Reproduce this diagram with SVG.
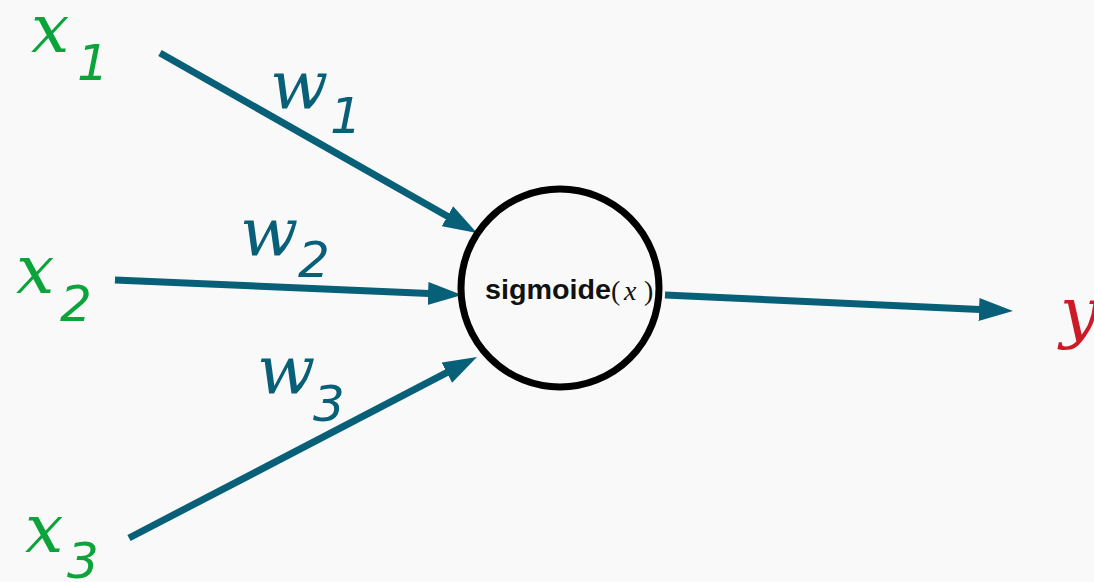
<svg xmlns="http://www.w3.org/2000/svg" width="1094" height="582" viewBox="0 0 1094 582">
<style>
.var{font-family:"DejaVu Serif","Liberation Serif",serif;font-style:italic;font-size:68px}
.sub{font-family:"DejaVu Sans","Liberation Sans",sans-serif;font-style:oblique;font-size:50px}
.in{fill:#0ba43b}
.wt{fill:#085f78}
.out{fill:#cc1a26}
.conn{stroke:#085f78;stroke-width:7;fill:none;marker-end:url(#ah)}
</style>
<defs>
<marker id="ah" markerUnits="userSpaceOnUse" markerWidth="36" markerHeight="24" viewBox="0 -12 36 24" refX="1" refY="0" orient="auto">
<path d="M0,-11.5 L34,0 L0,11.5 Z" fill="#085f78"/>
</marker>
</defs>
<rect width="1094" height="582" fill="#f9f9f9"/>
<g id="connectors">
<line class="conn" x1="160" y1="53" x2="448.3" y2="216.7"/>
<line class="conn" x1="115" y1="280" x2="429" y2="293.6"/>
<line class="conn" x1="129" y1="538" x2="447.7" y2="372.2"/>
<line class="conn" x1="665" y1="295" x2="980" y2="309.5"/>
</g>
<g id="x1"><text class="var in" x="31" y="52">x</text><text class="sub in" x="77" y="80">1</text></g>
<g id="x2"><text class="var in" x="16" y="293">x</text><text class="sub in" x="60" y="321">2</text></g>
<g id="x3"><text class="var in" x="25" y="552">x</text><text class="sub in" x="67" y="578">3</text></g>
<g id="w1"><text class="var wt" x="270" y="108">w</text><text class="sub wt" x="330" y="133">1</text></g>
<g id="w2"><text class="var wt" x="240" y="255">w</text><text class="sub wt" x="298" y="277">2</text></g>
<g id="w3"><text class="var wt" x="257" y="393">w</text><text class="sub wt" x="313" y="421">3</text></g>
<g id="neuron">
<circle cx="560" cy="288" r="99" fill="none" stroke="#000" stroke-width="7"/>
<text x="485" y="299" font-family="Liberation Sans, Arial, sans-serif" font-weight="bold" font-size="27" fill="#111" textLength="126" lengthAdjust="spacingAndGlyphs">sigmoide</text>
<text y="300" font-family="Liberation Serif, serif" font-size="28" fill="#111"><tspan x="611">(</tspan><tspan x="624" font-style="italic">x</tspan><tspan x="644">)</tspan></text>
</g>
<g id="y"><text class="var out" x="1060" y="335">y</text></g>
</svg>
